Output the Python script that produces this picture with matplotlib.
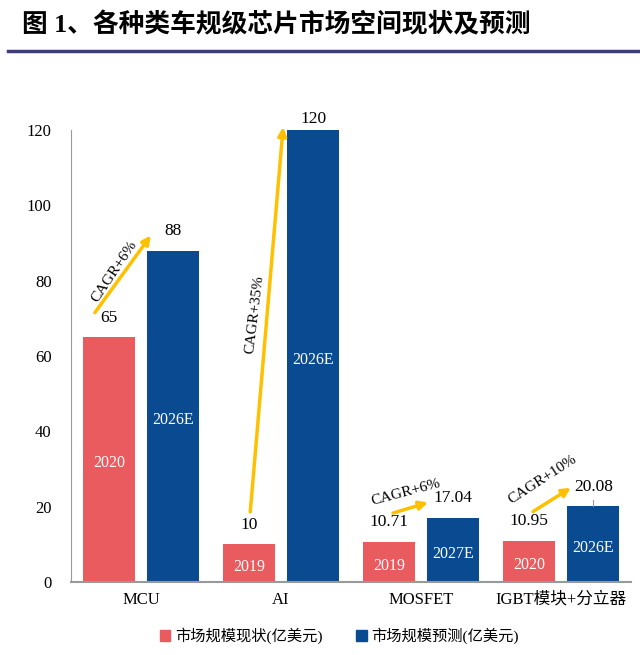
import numpy as np
import matplotlib
matplotlib.use("Agg")
import matplotlib.pyplot as plt
from matplotlib.lines import Line2D

plt.rcParams['font.family'] = ['Liberation Serif', 'Noto Sans CJK SC', 'DejaVu Sans']

# 数据
categories = ['MCU', 'AI', 'MOSFET', 'IGBT模块+分立器']
current_vals = [65, 10, 10.71, 10.95]
forecast_vals = [88, 120, 17.04, 20.08]
current_years = ['2020', '2019', '2019', '2020']
forecast_years = ['2026E', '2026E', '2027E', '2026E']
current_labels = ['65', '10', '10.71', '10.95']
forecast_labels = ['88', '120', '17.04', '20.08']
cagr_labels = ['CAGR+6%', 'CAGR+35%', 'CAGR+6%', 'CAGR+10%']

red = '#EA5B60'
blue = '#0A4A90'
gold = '#FFC000'

fig = plt.figure(figsize=(6.4, 6.55), dpi=100)
ax = fig.add_axes([0.111, 0.1115, 0.875, 0.69])

x = np.arange(len(categories))
w = 0.37
off = 0.23
ax.bar(x - off, current_vals, w, color=red)
ax.bar(x + off, forecast_vals, w, color=blue)

ax.set_xlim(-0.5, 3.5)
ax.set_ylim(0, 120)
ax.set_yticks(range(0, 121, 20))
ax.set_xticks(x)
ax.set_xticklabels(categories, fontsize=12)
ax.tick_params(axis='both', length=0, labelsize=12)
ax.tick_params(axis='y', pad=14)
ax.tick_params(axis='x', pad=7)
for s in ['top', 'right']:
    ax.spines[s].set_visible(False)
ax.spines['left'].set_color('#999999')
ax.spines['bottom'].set_color('#999999')
ax.spines['bottom'].set_linewidth(1.5)

# 数值标签
for i in range(len(categories)):
    ax.text(x[i] - off, current_vals[i] + 3, current_labels[i],
            ha='center', va='bottom', fontsize=12.5)
    gap = 0.8 if forecast_vals[i] >= 120 else 3
    ax.text(x[i] + off, forecast_vals[i] + gap, forecast_labels[i],
            ha='center', va='bottom', fontsize=12.5)
    ax.text(x[i] - off, current_vals[i] / 2 - 1, current_years[i],
            ha='center', va='center', color='white', fontsize=11.5)
    ax.text(x[i] + off, forecast_vals[i] / 2 - 1, forecast_years[i],
            ha='center', va='center', color='white', fontsize=11.5)

# IGBT 引线
ax.add_line(Line2D([x[3] + off, x[3] + off], [forecast_vals[3], forecast_vals[3] + 1.6],
                   color='#999999', lw=0.8))

# CAGR 箭头
arrow_start = [(-0.33, 71.5), (0.78, 18.6), (1.80, 18.3), (2.80, 18.7)]
arrow_end = [(0.07, 92.0), (1.015, 120.8), (2.05, 21.1), (3.07, 25.0)]
for (x0, y0), (x1, y1) in zip(arrow_start, arrow_end):
    ax.annotate('', xy=(x1, y1), xytext=(x0, y0),
                arrowprops=dict(arrowstyle='-|>,head_length=0.5,head_width=0.25',
                                color=gold, lw=2.5, shrinkA=0, shrinkB=0),
                annotation_clip=False)

cagr_pos = [(-0.19, 82.5), (0.81, 71), (1.89, 23.9), (2.87, 27.3)]
cagr_rot = [56, 83, 15, 33]
for (tx, ty), r, t in zip(cagr_pos, cagr_rot, cagr_labels):
    ax.text(tx, ty, t, rotation=r, ha='center', va='center', fontsize=11,
            rotation_mode='anchor')

# 图例
handles = [plt.Rectangle((0, 0), 1, 1, color=red), plt.Rectangle((0, 0), 1, 1, color=blue)]
fig.legend(handles, ['市场规模现状(亿美元)', '市场规模预测(亿美元)'], loc='center',
           bbox_to_anchor=(0.53, 0.029), ncol=2, frameon=False, fontsize=11,
           handlelength=0.7, handleheight=0.7, handletextpad=0.3, columnspacing=2.2)

# 标题
fig.text(0.034, 0.963, '图 1、各种类车规级芯片市场空间现状及预测', fontsize=18.5,
         fontweight='bold', ha='left', va='center')
fig.add_artist(Line2D([0.012, 1.0], [0.922, 0.922], color='#3D3D78', lw=2.5))

fig.savefig('out.png', dpi=100)
